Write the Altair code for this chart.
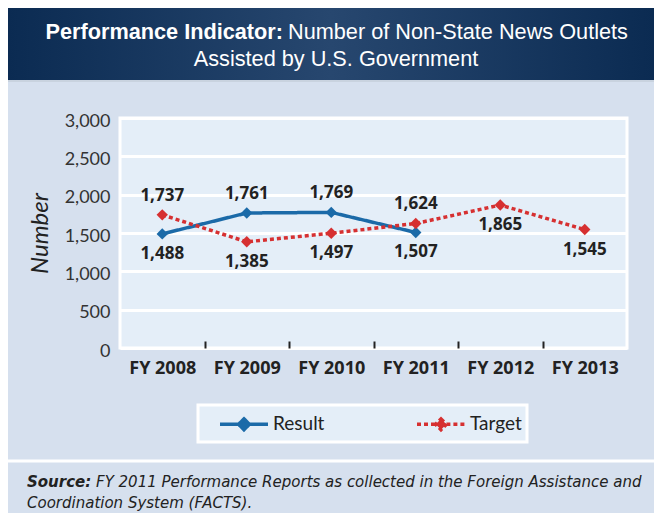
import altair as alt
import pandas as pd

# ---------------- data ----------------
years = ["FY 2008", "FY 2009", "FY 2010", "FY 2011", "FY 2012", "FY 2013"]
result_values = [1488, 1761, 1769, 1507, None, None]
target_values = [1737, 1385, 1497, 1624, 1865, 1545]
series_names = ["Result", "Target"]
y_ticks = [0, 500, 1000, 1500, 2000, 2500, 3000]
y_title = "Number"
title_bold = "Performance Indicator:"
title_rest = "Number of Non-State News Outlets"
title_line2 = "Assisted by U.S. Government"
source_bold = "Source:"
source_line1 = "FY 2011 Performance Reports as collected in the Foreign Assistance and"
source_line2 = "Coordination System (FACTS)."

BLUE = "#1b6aa8"
RED = "#d63031"
PANEL = "#d6e0ee"
PLOT = "#e4eef8"
INK = "#222222"

rows = []
for i, yr in enumerate(years):
    for s, vals, other in [("Result", result_values, target_values),
                           ("Target", target_values, result_values)]:
        v = vals[i]
        if v is None:
            continue
        o = other[i]
        side = "above" if (o is not None and v > o) else "below"
        rows.append({"year": yr, "series": s, "value": v,
                     "label": f"{v:,}", "side": side})
df = pd.DataFrame(rows)

W, H = 507, 230
PAD = {"left": 112, "top": 110, "right": 27, "bottom": 165}

one = alt.Data(values=[{"k": 0}])

legend_path = "M-2,0L-0.45,0M0.45,0L2,0M0,-0.45L0.45,0L0,0.45L-0.45,0Z"
def make_legend():
    return alt.Legend(
        title=None, orient="none", legendX=78, legendY=287,
        direction="horizontal", fillColor=PLOT, strokeColor="white",
        padding=5, symbolType=legend_path, symbolSize=576,
        symbolStrokeWidth=3.5, symbolOffset=27, labelOffset=15,
        columnPadding=75, labelFont="Lato", labelFontSize=19,
        labelColor=INK,
    )

x_enc = alt.X(
    "year:N", sort=years,
    scale=alt.Scale(type="band", domain=years, paddingInner=0, paddingOuter=0),
    axis=alt.Axis(
        title=None, domain=False, grid=False, tickBand="extent",
        tickSize=7, tickWidth=2, tickColor=INK, offset=-7, labelAngle=0,
        tickOpacity={"condition": {"test": "datum.index < 0 || datum.index >= 1",
                                   "value": 0}, "value": 1},
        labelFont="Open Sans", labelFontSize=18, labelFontWeight="bold",
        labelColor=INK, labelPadding=11,
    ),
)
y_enc = alt.Y(
    "value:Q",
    scale=alt.Scale(domain=[0, 3000]),
    axis=alt.Axis(
        values=y_ticks, format=",.0f", domain=False, ticks=False, grid=True,
        gridColor="white", gridWidth=3, labelFont="Lato", labelFontSize=18,
        labelColor="#333333", labelPadding=10, labelOffset=3,
        title=y_title, titleFont="Lato", titleFontStyle="italic",
        titleFontWeight="normal", titleFontSize=24, titleColor=INK,
        titleAngle=270, titleX=-80, titleY=115, titleAlign="center",
        titleBaseline="middle",
    ),
)

base = alt.Chart(df)

line = base.mark_line(strokeWidth=3.5, strokeCap="butt").encode(
    x=x_enc, y=y_enc,
    color=alt.Color("series:N", scale=alt.Scale(domain=series_names, range=[BLUE, RED]),
                    legend=make_legend()),
    strokeDash=alt.StrokeDash("series:N",
                              scale=alt.Scale(domain=series_names, range=[[1, 0], [4, 3]]),
                              legend=make_legend()),
)

points = base.mark_point(shape="diamond", filled=True, size=130, opacity=1).encode(
    x=x_enc, y=y_enc,
    fill=alt.Fill("series:N", scale=alt.Scale(domain=series_names, range=[BLUE, RED]),
                  legend=make_legend()),
)

lab_above = base.transform_filter("datum.side == 'above'").mark_text(
    font="Open Sans", fontSize=17, fontWeight="bold", color=INK,
    baseline="alphabetic", dy=-14,
).encode(x=x_enc, y=y_enc, text="label:N")

lab_below = base.transform_filter("datum.side == 'below'").mark_text(
    font="Open Sans", fontSize=17, fontWeight="bold", color=INK,
    baseline="alphabetic", dy=25,
).encode(x=x_enc, y=y_enc, text="label:N")

# decorations: header band, separators, title, source
header = alt.Chart(one).mark_rect(
    fill=alt.Gradient(gradient="linear", x1=0, x2=1, y1=0, y2=0,
                      stops=[alt.GradientStop(color="#0b2b52", offset=0),
                             alt.GradientStop(color="#27476f", offset=0.5),
                             alt.GradientStop(color="#0b2b52", offset=1)])
).encode(x=alt.value(-112), x2=alt.value(W + 27), y=alt.value(-110), y2=alt.value(-38))

sep_top = alt.Chart(one).mark_rule(color="#c9d3df", strokeWidth=2).encode(
    x=alt.value(-112), x2=alt.value(W + 27), y=alt.value(-37))
sep_bottom = alt.Chart(one).mark_rule(color="white", strokeWidth=3).encode(
    x=alt.value(-112), x2=alt.value(W + 27), y=alt.value(343))

TFS = 21.7
t1a = alt.Chart(one).mark_text(
    text=title_bold, font="Liberation Sans", fontSize=TFS, fontWeight="bold",
    color="white", align="right", baseline="alphabetic",
).encode(x=alt.value(163), y=alt.value(-79))
t1b = alt.Chart(one).mark_text(
    text=title_rest, font="Liberation Sans", fontSize=TFS, fontWeight="normal",
    color="white", align="left", baseline="alphabetic",
).encode(x=alt.value(168), y=alt.value(-79))
t2 = alt.Chart(one).mark_text(
    text=title_line2, font="Liberation Sans", fontSize=TFS, fontWeight="normal",
    color="white", align="center", baseline="alphabetic",
).encode(x=alt.value(216), y=alt.value(-52))

SFS = 15
SFONT = "DejaVu Sans"
s1a = alt.Chart(one).mark_text(
    text=source_bold, font=SFONT, fontSize=SFS, fontWeight="bold",
    fontStyle="italic", color=INK, align="left", baseline="alphabetic",
).encode(x=alt.value(-93), y=alt.value(369))
s1b = alt.Chart(one).mark_text(
    text=source_line1, font=SFONT, fontSize=SFS, fontStyle="italic",
    color=INK, align="left", baseline="alphabetic",
).encode(x=alt.value(-24), y=alt.value(369))
s2 = alt.Chart(one).mark_text(
    text=source_line2, font=SFONT, fontSize=SFS, fontStyle="italic",
    color=INK, align="left", baseline="alphabetic",
).encode(x=alt.value(-93), y=alt.value(390))

chart = alt.layer(
    header, sep_top, sep_bottom, t1a, t1b, t2, s1a, s1b, s2,
    line, points, lab_above, lab_below,
).properties(
    width=W, height=H, padding=PAD, autosize="none", background=PANEL,
).configure_view(
    fill=PLOT, stroke="white", strokeWidth=3,
).configure_legend(
    strokeWidth=3,
)

chart.save("out.html", embed_options={"renderer": "svg", "actions": False})
